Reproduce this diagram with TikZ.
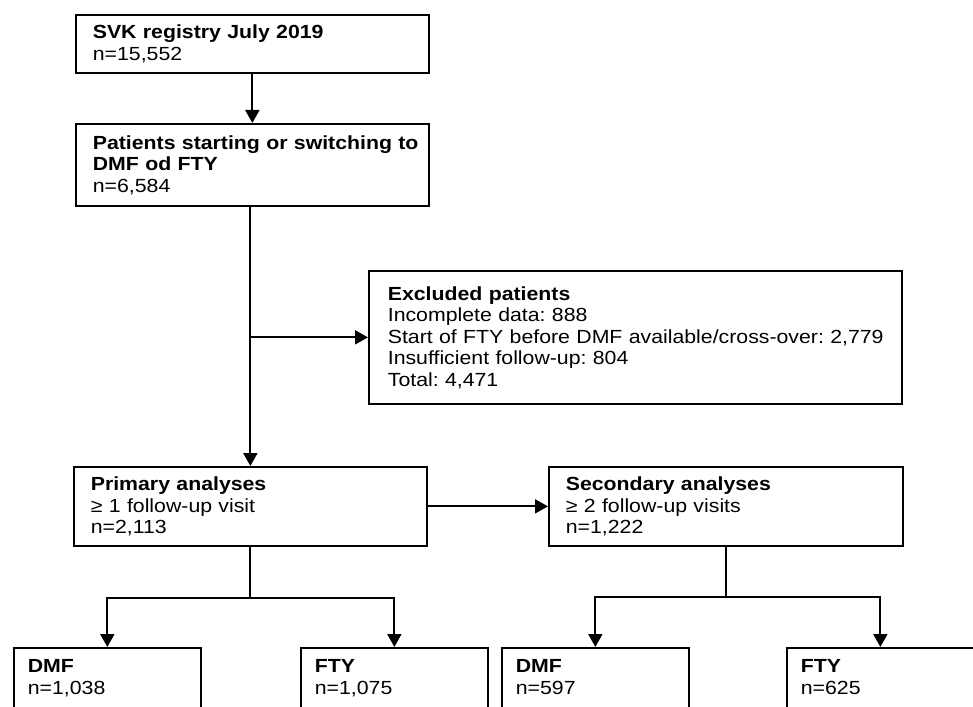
\documentclass[tikz,border=0pt]{standalone}
\usepackage{fontspec}
\setmainfont{Liberation Sans}[FakeStretch=1.12]
\usetikzlibrary{arrows.meta}
\frenchspacing
\begin{document}
\begin{tikzpicture}[x=1pt,y=-1pt,
  txt/.style={font=\fontsize{19pt}{21.5pt}\selectfont},
  box/.style={txt, draw, line width=1.7pt, rectangle, anchor=north west, align=left, inner xsep=17pt, inner ysep=0pt},
  bot/.style={txt, draw, line width=1.7pt, rectangle, anchor=north west, inner xsep=14pt, inner ysep=12pt, minimum width=187pt},
  arr/.style={line width=2pt, -{Triangle[width=14pt,length=13pt]}},
  ln/.style={line width=2pt}]
\useasboundingbox (0,0) rectangle (973,706);
\clip (0,0) rectangle (973,706);
\node[box, minimum width=353pt, minimum height=58pt, text width=319pt] (reg) at (75,14)
  {\textbf{SVK registry July 2019}\\n=15,552};
\node[box, minimum width=353pt, minimum height=82pt, text width=319pt] (pat) at (75,123)
  {\mbox{\textbf{Patients starting or switching to}}\\\textbf{DMF od FTY}\\n=6,584};
\node[box, minimum width=533pt, minimum height=133pt, text width=495pt, inner xsep=19pt] (exc) at (368,270)
  {\textbf{Excluded patients}\\Incomplete data: 888\\\mbox{Start of FTY before DMF available/cross-over: 2,779}\\Insufficient follow-up: 804\\Total: 4,471};
\node[box, minimum width=353pt, minimum height=79pt, text width=319pt] (pri) at (73,466)
  {\textbf{Primary analyses}\\≥ 1 follow-up visit\\n=2,113};
\node[box, minimum width=354pt, minimum height=79pt, text width=320pt] (sec) at (548,466)
  {\textbf{Secondary analyses}\\≥ 2 follow-up visits\\n=1,222};
\node[bot] (dmfa) at (13,647) {\begin{minipage}[t][90pt][t]{159pt}\textbf{DMF}\\n=1,038\end{minipage}};
\node[bot] (ftya) at (300,647) {\begin{minipage}[t][90pt][t]{159pt}\textbf{FTY}\\n=1,075\end{minipage}};
\node[bot] (dmfb) at (501,647) {\begin{minipage}[t][90pt][t]{159pt}\textbf{DMF}\\n=597\end{minipage}};
\node[bot] (ftyb) at (786,647) {\begin{minipage}[t][90pt][t]{159pt}\textbf{FTY}\\n=625\end{minipage}};
\draw[arr] (reg.south) -- (pat.north);
\draw[arr] (pat.south -| pri.north) -- (pri.north);
\draw[arr] (pri.north |- exc.west) -- (exc.west);
\draw[arr] (pri.east) -- (sec.west);
\draw[ln] (pri.south) -- ++(0,51) coordinate (pj);
\draw[arr] (pj) -| (dmfa.north);
\draw[arr] (pj) -| (ftya.north);
\draw[ln] (sec.south) -- ++(0,50) coordinate (sj);
\draw[arr] (sj) -| (dmfb.north);
\draw[arr] (sj) -| (ftyb.north);
\end{tikzpicture}
\end{document}
